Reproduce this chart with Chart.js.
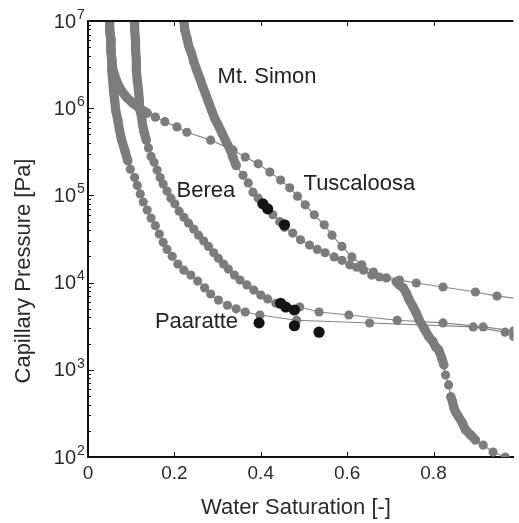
<!DOCTYPE html>
<html>
<head>
<meta charset="utf-8">
<style>
    body { margin: 0; background: #fff; }
</style>
</head>
<body>
<canvas id="myChart" width="519" height="523"></canvas>

<script src="https://cdn.jsdelivr.net/npm/chart.js@4.4.0/dist/chart.umd.min.js"></script>
<script>
    // water saturation [-] and capillary pressure [Pa]
    const mtSimonSw = [0.222, 0.224, 0.229, 0.233, 0.240, 0.245, 0.252, 0.259, 0.265, 0.272, 0.279, 0.286, 0.293, 0.302, 0.311, 0.320, 0.330, 0.336, 0.343,
        0.359, 0.371, 0.382, 0.394, 0.428, 0.444, 0.455, 0.474, 0.492, 0.513, 0.531, 0.549, 0.570, 0.588, 0.606, 0.622, 0.638, 0.657, 0.675, 0.691, 0.714,
        0.721, 0.730, 0.737, 0.744, 0.753, 0.760, 0.767, 0.778, 0.789, 0.799, 0.805, 0.812, 0.819, 0.824, 0.828, 0.835,
        0.840, 0.844, 0.847, 0.851, 0.858, 0.867, 0.874, 0.886, 0.897, 0.915, 0.938, 0.966]
    const mtSimonPc = [1e7, 7.9e6, 6.4e6, 5.2e6, 4.2e6, 3.4e6, 2.7e6, 2.2e6, 1.8e6, 1.46e6, 1.18e6, 9.5e5, 7.7e5, 6.3e5, 5.1e5, 4.1e5, 3.3e5, 2.7e5, 2.2e5,
        1.7e5, 1.39e5, 1.09e5, 9.3e4, 6.0e4, 5.0e4, 4.3e4, 3.7e4, 3.1e4, 2.7e4, 2.4e4, 2.2e4, 1.97e4, 1.8e4, 1.6e4, 1.5e4, 1.39e4, 1.22e4, 1.16e4, 1.13e4, 1.02e4,
        9.4e3, 8.7e3, 7.6e3, 6.3e3, 5.25e3, 4.5e3, 3.7e3, 3.0e3, 2.4e3, 2.1e3, 1.82e3, 1.69e3, 1.36e3, 1.14e3, 870, 670,
        490, 430, 370, 330, 290, 245, 205, 179, 157, 137, 114, 100]

    const tuscaloosaSw = [0.050, 0.050, 0.053, 0.053, 0.055, 0.057, 0.062, 0.069, 0.078, 0.089, 0.103, 0.119, 0.137, 0.156, 0.178, 0.206, 0.229,
        0.284, 0.336, 0.364, 0.394, 0.421, 0.446, 0.467, 0.485, 0.503, 0.524, 0.547, 0.565, 0.588, 0.611, 0.634, 0.661,
        0.721, 0.760, 0.822, 0.897, 0.947, 1.0]
    const tuscaloosaPc = [1e7, 7.9e6, 6.1e6, 4.6e6, 3.6e6, 2.9e6, 2.34e6, 1.9e6, 1.57e6, 1.34e6, 1.15e6, 1.0e6, 8.8e5, 7.9e5, 7.0e5, 6.1e5, 5.3e5,
        4.3e5, 3.3e5, 2.75e5, 2.3e5, 1.85e5, 1.5e5, 1.22e5, 9.8e4, 7.8e4, 6.0e4, 4.6e4, 3.5e4, 2.6e4, 1.97e4, 1.6e4, 1.32e4,
        1.07e4, 9.9e3, 8.9e3, 7.8e3, 7.0e3, 6.5e3]

    const bereaSw = [0.108, 0.108, 0.110, 0.110, 0.112, 0.112, 0.114, 0.117, 0.119, 0.119, 0.124, 0.126, 0.130, 0.135,
        0.140, 0.146, 0.153, 0.160, 0.167, 0.174, 0.183, 0.192, 0.201, 0.211, 0.222, 0.233, 0.245, 0.256, 0.268, 0.279, 0.291,
        0.302, 0.314, 0.325, 0.339, 0.352, 0.368, 0.384, 0.400, 0.416, 0.435,
        0.490, 0.535, 0.604, 0.716, 0.822, 0.915, 0.986]
    const bereaPc = [1e7, 7.9e6, 6.1e6, 4.6e6, 3.6e6, 2.7e6, 2.1e6, 1.6e6, 1.2e6, 1.0e6, 8.1e5, 6.6e5, 5.3e5, 4.3e5,
        3.5e5, 2.8e5, 2.4e5, 1.95e5, 1.6e5, 1.35e5, 1.12e5, 9.3e4, 8.0e4, 6.6e4, 5.6e4, 4.8e4, 4.1e4, 3.5e4, 3.0e4, 2.6e4, 2.2e4,
        1.9e4, 1.63e4, 1.43e4, 1.22e4, 1.07e4, 9.4e3, 8.2e3, 7.2e3, 6.5e3, 5.8e3,
        5.25e3, 4.6e3, 4.25e3, 3.7e3, 3.45e3, 3.1e3, 2.8e3]

    const paaratteSw = [0.050, 0.050, 0.053, 0.053, 0.055, 0.055, 0.057, 0.059, 0.062, 0.064, 0.069, 0.073, 0.078, 0.085, 0.092,
        0.098, 0.108, 0.114, 0.121, 0.128, 0.137, 0.146, 0.156, 0.165, 0.174, 0.183, 0.195, 0.208, 0.222, 0.238, 0.254, 0.270,
        0.284, 0.302, 0.323, 0.343, 0.364,
        0.398, 0.483, 0.652, 0.892, 0.966, 0.986]
    const paarattePc = [1e7, 7.9e6, 6.1e6, 4.6e6, 3.6e6, 2.7e6, 2.1e6, 1.6e6, 1.2e6, 9.5e5, 7.3e5, 5.6e5, 4.3e5, 3.3e5, 2.5e5,
        2.0e5, 1.6e5, 1.3e5, 1.04e5, 8.4e4, 6.8e4, 5.5e4, 4.5e4, 3.6e4, 2.9e4, 2.4e4, 2.0e4, 1.63e4, 1.39e4, 1.22e4, 1.04e4, 8.7e3,
        7.4e3, 6.3e3, 5.5e3, 5.0e3, 4.6e3,
        4.25e3, 3.7e3, 3.44e3, 3.1e3, 2.7e3, 2.4e3]

    // measured points (black)
    const measuredSw = [0.405, 0.416, 0.455, 0.446, 0.458, 0.478, 0.396, 0.478, 0.535]
    const measuredPc = [8.0e4, 7.0e4, 4.6e4, 5.8e3, 5.25e3, 4.85e3, 3.45e3, 3.2e3, 2.7e3]

    const xTicks = [0, 0.2, 0.4, 0.6, 0.8]
    const xTickLabels = ['0', '0.2', '0.4', '0.6', '0.8']
    const yTicks = [1e2, 1e3, 1e4, 1e5, 1e6, 1e7]
    const yTickExps = ['2', '3', '4', '5', '6', '7']

    const labels = [
        { text: 'Mt. Simon', sw: 0.300, pc: 2.3e6 },
        { text: 'Tuscaloosa', sw: 0.499, pc: 1.37e5 },
        { text: 'Berea', sw: 0.205, pc: 1.13e5 },
        { text: 'Paaratte', sw: 0.155, pc: 3.5e3 }
    ]

    function pts(sw, pc) {
        return sw.map((v, i) => ({ x: v, y: pc[i] }))
    }

    // where the markers sit so close that they merge into a solid band,
    // draw the joining segment as wide as a marker
    const DOT = '#7c7c7c'
    function curve(sw, pc, bands) {
        const solid = c => bands.some(([lo, hi]) =>
            c.p0.parsed.y >= lo && c.p0.parsed.y <= hi && c.p1.parsed.y >= lo && c.p1.parsed.y <= hi)
        return {
            data: pts(sw, pc),
            showLine: true,
            borderColor: '#858585',
            borderWidth: 1.2,
            borderCapStyle: 'round',
            borderJoinStyle: 'round',
            segment: {
                borderWidth: c => solid(c) ? 9.2 : 1.2,
                borderColor: c => solid(c) ? DOT : '#858585'
            },
            backgroundColor: DOT,
            pointRadius: 4.6,
            pointBorderWidth: 0,
            pointHoverRadius: 4.6
        }
    }

    const FONT = 'Liberation Sans, Arial, Helvetica, sans-serif'

    const overlay = {
        id: 'overlay',
        afterDraw(chart) {
            const { ctx, chartArea: a, scales: { x, y } } = chart
            ctx.save()
            // top frame
            ctx.strokeStyle = '#111'
            ctx.lineWidth = 2
            ctx.beginPath()
            ctx.moveTo(a.left, a.top)
            ctx.lineTo(a.right, a.top)
            ctx.stroke()

            // inward ticks on the left axis
            ctx.lineWidth = 1
            for (let e = 2; e < 7; e++) {
                for (let m = 1; m < 10; m++) {
                    const py = Math.round(y.getPixelForValue(m * Math.pow(10, e))) + 0.5
                    const len = m === 1 ? 6 : 3
                    ctx.beginPath()
                    ctx.moveTo(a.left, py)
                    ctx.lineTo(a.left + len, py)
                    ctx.stroke()
                }
            }
            // x ticks bottom / top
            xTicks.forEach(v => {
                const px = Math.round(x.getPixelForValue(v)) + 0.5
                ctx.beginPath()
                ctx.moveTo(px, a.bottom)
                ctx.lineTo(px, a.bottom - 5)
                ctx.moveTo(px, a.top)
                ctx.lineTo(px, a.top + 5)
                ctx.stroke()
            })

            ctx.fillStyle = '#2b2b2b'
            // y tick labels 10^n
            yTicks.forEach((v, i) => {
                const py = y.getPixelForValue(v)
                ctx.font = '20px ' + FONT
                ctx.textAlign = 'right'
                ctx.textBaseline = 'middle'
                ctx.fillText('10', 76, py + 1)
                ctx.font = '14px ' + FONT
                ctx.textAlign = 'left'
                ctx.fillText(yTickExps[i], 77, py - 6)
            })
            // x tick labels
            ctx.font = '19px ' + FONT
            ctx.textAlign = 'center'
            ctx.textBaseline = 'middle'
            xTicks.forEach((v, i) => {
                ctx.fillText(xTickLabels[i], x.getPixelForValue(v), 474)
            })

            // axis titles
            ctx.font = '22px ' + FONT
            ctx.fillText('Water Saturation [-]', 296, 508)
            ctx.save()
            ctx.translate(24, 271)
            ctx.rotate(-Math.PI / 2)
            ctx.fillText('Capillary Pressure [Pa]', 0, 0)
            ctx.restore()

            // curve names
            ctx.textAlign = 'left'
            ctx.fillStyle = '#222'
            labels.forEach(l => {
                ctx.fillText(l.text, x.getPixelForValue(l.sw), y.getPixelForValue(l.pc))
            })
            ctx.restore()
        }
    }

    var ctx = document.getElementById('myChart').getContext('2d')
    var chart = new Chart(ctx, {
        type: 'scatter',
        data: {
            datasets: [
                {
                    data: pts(measuredSw, measuredPc),
                    backgroundColor: '#141414',
                    pointRadius: 5.6,
                    pointBorderWidth: 0,
                    pointHoverRadius: 5.6
                },
                curve(mtSimonSw, mtSimonPc, [[2.2e5, 1e7], [1.14e3, 1.02e4], [157, 490]]),
                curve(tuscaloosaSw, tuscaloosaPc, [[8.8e5, 1e7]]),
                curve(bereaSw, bereaPc, [[4.3e5, 1e7]]),
                curve(paaratteSw, paarattePc, [[2.5e5, 1e7]])
            ]
        },
        options: {
            responsive: false,
            animation: false,
            devicePixelRatio: 1,
            layout: { padding: { top: 21, left: 0, right: 0, bottom: 0 } },
            plugins: {
                legend: { display: false },
                tooltip: { enabled: false }
            },
            scales: {
                x: {
                    type: 'linear',
                    min: 0,
                    max: 0.985,
                    grid: { display: false },
                    border: { display: true, color: '#111', width: 2 },
                    ticks: { display: false },
                    afterFit: s => { s.height = 66 }
                },
                y: {
                    type: 'logarithmic',
                    min: 100,
                    max: 1e7,
                    grid: { display: false },
                    border: { display: true, color: '#111', width: 2 },
                    ticks: { display: false },
                    afterFit: s => { s.width = 88 }
                }
            }
        },
        plugins: [overlay]
    })
</script>
</body>
</html>
